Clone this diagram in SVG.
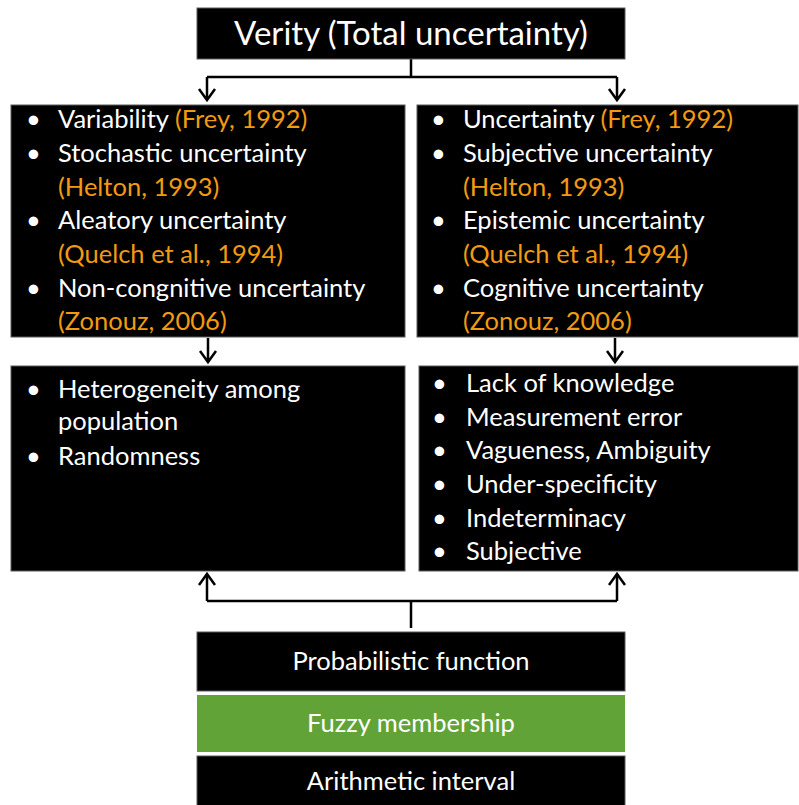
<svg xmlns="http://www.w3.org/2000/svg" width="799" height="805" viewBox="0 0 799 805">
<style>
.box{fill:#000;stroke:#5a5a5a;stroke-width:1}
.t{font-family:Lato,"Open Sans","Liberation Sans",sans-serif;font-size:25.5px;fill:#fff}
.o{fill:#F29A12}
.c{text-anchor:middle}
.ln{fill:none;stroke:#000;stroke-width:2.5}
</style>
<rect width="799" height="805" fill="#fff"/>
<g id="connectors">
<path class="ln" d="M411,59 V77 M207,77 H617 M207,77 V99 M617,77 V99"/>
<path class="ln" d="M199,89 L207,100 L215,89 M609,89 L617,100 L625,89"/>
<path class="ln" d="M208,338 V362 M200,351 L208,362 L216,351"/>
<path class="ln" d="M615,338 V362 M607,351 L615,362 L623,351"/>
<path class="ln" d="M411,628 V601 M207,601 H617 M207,601 V574 M617,601 V574"/>
<path class="ln" d="M199,585 L207,574 L215,585 M609,585 L617,574 L625,585"/>
</g>
<g id="top">
<rect class="box" x="197" y="8" width="428" height="51"/>
<text class="t c" x="411" y="45" style="font-size:33px">Verity (Total uncertainty)</text>
</g>
<g id="aleatory">
<rect class="box" x="11" y="105" width="394" height="232"/>
<g class="t">
<text x="26" y="128">•</text><text x="58" y="128">Variability <tspan class="o">(Frey, 1992)</tspan></text>
<text x="26" y="162">•</text><text x="58" y="162">Stochastic uncertainty</text>
<text x="58" y="196" class="o">(Helton, 1993)</text>
<text x="26" y="229">•</text><text x="58" y="229">Aleatory uncertainty</text>
<text x="58" y="263" class="o">(Quelch et al., 1994)</text>
<text x="26" y="297">•</text><text x="58" y="297">Non-congnitive uncertainty</text>
<text x="58" y="330" class="o">(Zonouz, 2006)</text>
</g>
</g>
<g id="epistemic">
<rect class="box" x="417" y="105" width="381" height="232"/>
<g class="t">
<text x="431" y="128">•</text><text x="463" y="128">Uncertainty <tspan class="o">(Frey, 1992)</tspan></text>
<text x="431" y="162">•</text><text x="463" y="162">Subjective uncertainty</text>
<text x="463" y="196" class="o">(Helton, 1993)</text>
<text x="431" y="229">•</text><text x="463" y="229">Epistemic uncertainty</text>
<text x="463" y="263" class="o">(Quelch et al., 1994)</text>
<text x="431" y="297">•</text><text x="463" y="297">Cognitive uncertainty</text>
<text x="463" y="330" class="o">(Zonouz, 2006)</text>
</g>
</g>
<g id="aleatory-sources">
<rect class="box" x="11" y="366" width="394" height="205"/>
<g class="t">
<text x="26" y="398">•</text><text x="58" y="398">Heterogeneity among</text>
<text x="58" y="430">population</text>
<text x="26" y="465">•</text><text x="58" y="465">Randomness</text>
</g>
</g>
<g id="epistemic-sources">
<rect class="box" x="419" y="366" width="379" height="205"/>
<g class="t">
<text x="432" y="392">•</text><text x="466" y="392">Lack of knowledge</text>
<text x="432" y="426">•</text><text x="466" y="426">Measurement error</text>
<text x="432" y="459">•</text><text x="466" y="459">Vagueness, Ambiguity</text>
<text x="432" y="493">•</text><text x="466" y="493">Under-specificity</text>
<text x="432" y="527">•</text><text x="466" y="527">Indeterminacy</text>
<text x="432" y="560">•</text><text x="466" y="560">Subjective</text>
</g>
</g>
<g id="probabilistic">
<rect class="box" x="197" y="632" width="428" height="59"/>
<text class="t c" x="411" y="670">Probabilistic function</text>
</g>
<g id="fuzzy">
<rect x="197" y="695" width="428" height="57" fill="#62A338"/>
<text class="t c" x="411" y="732">Fuzzy membership</text>
</g>
<g id="arithmetic">
<rect class="box" x="197" y="756" width="428" height="50"/>
<text class="t c" x="411" y="790">Arithmetic interval</text>
</g>
</svg>
